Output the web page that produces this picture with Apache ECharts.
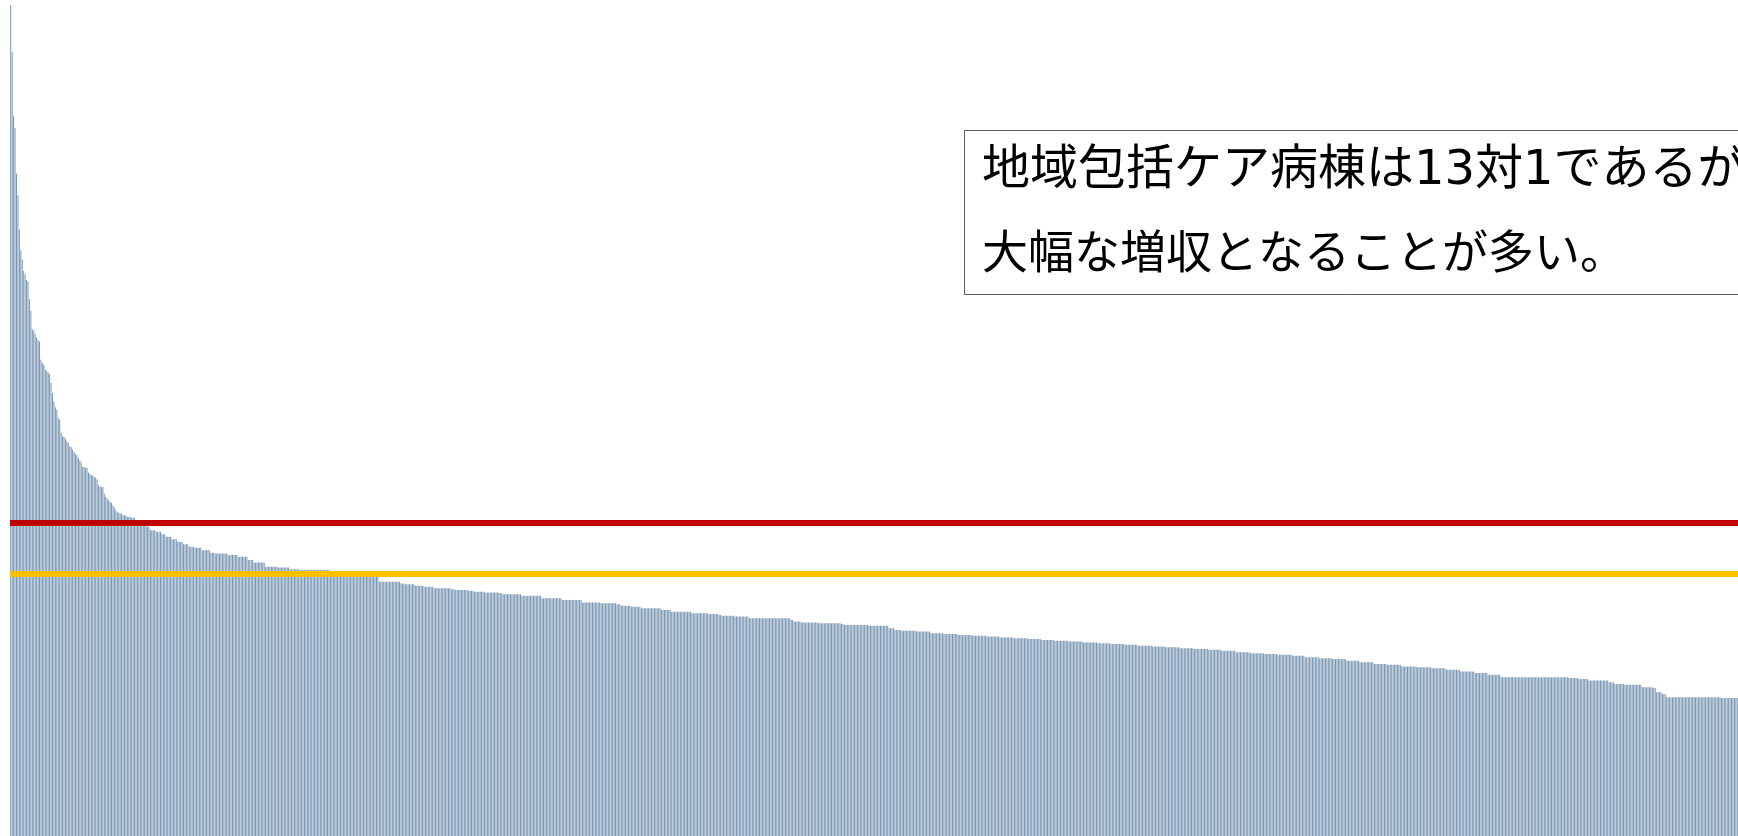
<!DOCTYPE html>
<html>
<head>
<meta charset="utf-8">
<script src="https://cdn.jsdelivr.net/npm/echarts@6/dist/echarts.min.js"></script>
<style>
  html, body { margin: 0; padding: 0; background: #ffffff; }
  #chart { width: 1738px; height: 836px; }
</style>
</head>
<body>
<div id="chart"></div>
<script>
// Hospitals sorted by value, high to low: [value, number of consecutive hospitals at that value]
const barRuns = [
  [100,1],[94.3,1],[86.6,1],[85.2,1],[79.7,1],[77.1,1],[73.0,1],[70.5,1],[69.4,1],[68.0,1],
  [67.6,1],[66.9,1],[66.7,1],[64.6,1],[63.2,1],[61.0,1],[60.8,1],[60.4,1],[60.0,1],[59.7,1],
  [59.5,1],[57.3,1],[56.9,1],[56.7,1],[56.1,1],[56.0,1],[55.8,1],[55.6,1],[54.5,1],[53.3,1],
  [52.3,1],[51.6,1],[51.3,1],[50.3,1],[50.1,1],[48.5,1],[48.1,1],[48.0,1],[47.8,1],[47.5,1],
  [47.3,1],[46.9,1],[46.8,1],[46.5,1],[46.2,1],[46.0,1],[45.8,1],[45.5,1],[45.2,1],[44.9,1],
  [44.4,2],[44.3,2],[43.7,1],[43.6,1],[43.4,2],[43.2,1],[43.1,1],[42.9,1],[42.2,1],[42.1,1],
  [42.0,2],[41.2,1],[40.8,1],[40.6,1],[40.4,1],[40.2,1],[40.1,1],[39.8,1],[39.5,1],[39.2,1],
  [39.0,1],[38.9,1],
  [38.8,2],[38.6,3],[38.4,3],[38.3,3],[38.0,3],[37.8,2],[37.4,3],[37.2,2],[36.8,4],[36.6,4],
  [36.3,3],[36.0,4],[35.7,4],[35.4,4],[35.1,4],[34.8,4],[34.7,5],[34.4,6],[34.1,3],[34.0,9],
  [33.8,7],[33.6,7],[33.2,4],[32.9,8],[32.4,9],[32.3,8],[32.1,7],[32.0,21],[31.7,18],[31.2,16],
  [30.6,15],[30.4,3],[30.3,7],[30.1,6],[30.0,7],[29.8,12],[29.7,3],[29.6,9],[29.5,4],[29.4,7],
  [29.3,10],[29.2,3],[29.1,13],[28.9,14],[28.6,14],[28.4,14],[28.1,13],[28.0,11],[27.9,3],[27.7,7],
  [27.6,7],[27.4,14],[27.2,7],[27.0,14],[26.8,12],[26.7,7],[26.6,2],[26.5,9],[26.4,10],[26.2,29],
  [26.0,2],[25.8,5],[25.7,12],[25.6,16],[25.5,2],[25.4,17],[25.3,14],[25.0,4],[24.8,5],
  [24.7,10],[24.6,10],[24.4,9],
  [24.3,10],[24.2,10],[24.1,10],[24.0,9],
  [23.9,10],[23.8,10],[23.7,9],[23.6,9],
  [23.5,10],[23.4,10],[23.3,10],[23.2,9],
  [23.1,10],[23.0,9],[22.9,10],[22.8,9],
  [22.7,10],[22.6,10],[22.5,10],[22.4,9],
  [22.3,10],[22.1,10],[22.0,10],[21.9,9],
  [21.8,10],[21.7,9],[21.5,10],[21.4,9],
  [21.3,10],[21.1,9],[20.9,10],[20.7,9],
  [20.6,10],[20.4,11],[20.3,10],
  [20.2,10],[20.0,10],[19.8,10],[19.6,9],[19.4,9],
  [19.1,47],[19.0,7],[18.9,7],[18.7,14],[18.5,4],[18.3,7],[18.2,12],[17.9,8],[17.8,2],[17.3,4],
  [17.1,3],[16.7,38],[16.6,12]
];

// Reference levels drawn across the whole chart
const redLineValue = 37.7;
const yellowLineValue = 31.6;

// Call-out text
const noteLines = ['地域包括ケア病棟は13対1であるが', '大幅な増収となることが多い。'];

// Expand the runs into one value per hospital
const barValues = [];
barRuns.forEach(([v, n]) => { for (let k = 0; k < n; k++) barValues.push(v); });
const categories = barValues.map((_, i) => String(i + 1));

const chart = echarts.init(document.getElementById('chart'), null, { renderer: 'canvas' });

const noteFont = '"DejaVu Sans", "Noto Sans CJK JP", sans-serif';

chart.setOption({
  animation: false,
  backgroundColor: '#ffffff',
  grid: { left: 10, right: 0, top: 5, bottom: 0, containLabel: false },
  xAxis: {
    type: 'category',
    data: categories,
    show: false,
    boundaryGap: true
  },
  yAxis: {
    type: 'value',
    min: 0,
    max: 100,
    show: false
  },
  series: [{
    type: 'bar',
    data: barValues,
    barCategoryGap: '35%',
    silent: true,
    itemStyle: { color: '#7895b2' },
    markLine: {
      silent: true,
      symbol: ['none', 'none'],
      label: { show: false },
      data: [
        { yAxis: redLineValue, lineStyle: { color: '#c00000', width: 6, type: 'solid', cap: 'butt' } },
        { yAxis: yellowLineValue, lineStyle: { color: '#ffc000', width: 6, type: 'solid', cap: 'butt' } }
      ]
    }
  }],
  graphic: [
    {
      type: 'rect',
      z: 10,
      shape: { x: 964.5, y: 130.5, width: 900, height: 164 },
      style: { fill: '#ffffff', stroke: '#5a5a5a', lineWidth: 1 }
    },
    {
      type: 'text',
      z: 11,
      x: 982,
      y: 172,
      style: {
        text: noteLines[0],
        fontSize: 48,
        fontFamily: noteFont,
        fill: '#000000',
        verticalAlign: 'middle',
        align: 'left'
      }
    },
    {
      type: 'text',
      z: 11,
      x: 982,
      y: 256,
      style: {
        text: noteLines[1],
        fontSize: 46,
        fontFamily: noteFont,
        fill: '#000000',
        verticalAlign: 'middle',
        align: 'left'
      }
    }
  ]
});
</script>
</body>
</html>
